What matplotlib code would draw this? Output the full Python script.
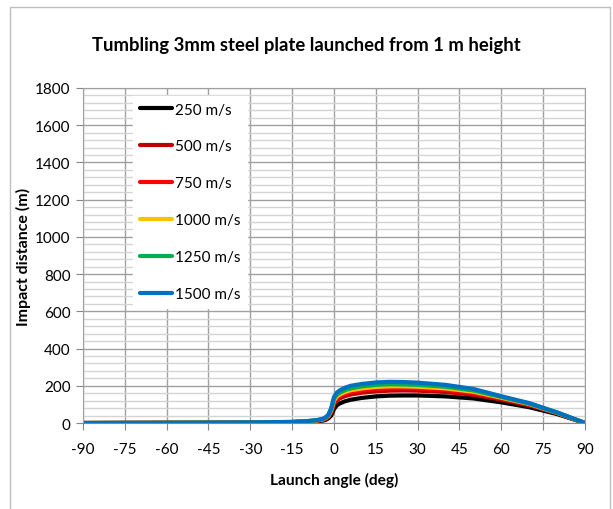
import numpy as np
import matplotlib.pyplot as plt
from matplotlib.ticker import MultipleLocator

plt.rcParams['font.family'] = ['Lato', 'DejaVu Sans']
plt.rcParams['axes.unicode_minus'] = False

# launch angle (deg) and impact distance (m) per launch speed
angles = [-90, -60, -30, -15, -10, -6, -4, -3, -2, -1, 0, 1, 2, 4, 6, 10,
          15, 20, 25, 30, 40, 50, 60, 70, 80, 90]
dist_250 = [0, 1, 2, 4, 6, 9, 13, 17, 25, 40, 75, 95, 105, 117, 125, 135,
            143, 147, 148, 148, 143, 132, 111, 85, 48, 0]
dist_500 = [0, 1, 2, 5, 8, 12, 17, 22, 32, 55, 100, 122, 132, 145, 153, 163,
            170, 174, 175, 174, 167, 152, 126, 95, 52, 0]
dist_750 = [0, 1, 2, 5, 8, 13, 19, 25, 36, 62, 110, 132, 143, 156, 165, 175,
            182, 186, 187, 185, 177, 161, 132, 99, 54, 0]
dist_1000 = [0, 1, 2, 5, 9, 14, 20, 27, 39, 68, 120, 142, 153, 167, 176, 186,
             194, 197, 197, 195, 186, 168, 136, 102, 55, 0]
dist_1250 = [0, 1, 2, 6, 9, 15, 22, 29, 42, 74, 130, 152, 163, 177, 186, 197,
             205, 208, 207, 205, 195, 175, 140, 104, 56, 0]
dist_1500 = [0, 1, 3, 6, 10, 16, 23, 31, 45, 80, 140, 163, 175, 190, 200, 210,
             218, 221, 220, 217, 205, 183, 144, 107, 57, 0]

labels = ["250 m/s", "500 m/s", "750 m/s", "1000 m/s", "1250 m/s", "1500 m/s"]
series = [dist_250, dist_500, dist_750, dist_1000, dist_1250, dist_1500]
colors = ["#000000", "#c00000", "#ff0000", "#ffc000", "#00b050", "#0070c0"]

fig = plt.figure(figsize=(6.13, 5.1), dpi=100)
ax = fig.add_axes([0.1354, 0.1686, 0.8189, 0.6569])

for vals, lab, col in zip(series, labels, colors):
    ax.plot(angles, vals, color=col, lw=3, label=lab, solid_capstyle="round")

ax.set_xlim(-90, 90)
ax.set_ylim(0, 1800)
ax.xaxis.set_major_locator(MultipleLocator(15))
ax.yaxis.set_major_locator(MultipleLocator(200))
ax.yaxis.set_minor_locator(MultipleLocator(40))
ax.grid(which="major", color="#a0a0a0", lw=1)
ax.grid(which="minor", axis="y", color="#d4d4d4", lw=1)
ax.set_axisbelow(True)
for s in ax.spines.values():
    s.set_color("#a0a0a0")
ax.spines["bottom"].set_color("#868686")
ax.tick_params(which="major", direction="out", length=5, color="#868686",
               labelsize=11, pad=4)
ax.tick_params(which="minor", length=0)
ax.tick_params(axis="x", pad=9)

ax.set_xlabel("Launch angle (deg)", fontsize=11.2, fontweight="bold", labelpad=11)
ax.set_ylabel("Impact distance (m)", fontsize=11.5, fontweight="bold", labelpad=3)
fig.text(0.5, 0.911, "Tumbling 3mm steel plate launched from 1 m height",
         ha="center", va="center", fontsize=13.3, fontweight="bold")

leg = ax.legend(loc="upper left", bbox_to_anchor=(0.085, 1.0), frameon=True,
                fontsize=11, labelspacing=1.5, handlelength=2.1,
                handletextpad=0.15, borderpad=0.45, fancybox=False)
leg.get_frame().set_edgecolor("white")
leg.get_frame().set_alpha(1)

fig.patches.append(plt.Rectangle((10 / 613, -0.05), 600 / 613, 1 - 8 / 510 + 0.05,
                                 transform=fig.transFigure, fill=False,
                                 edgecolor="#bfbfbf", lw=1))

fig.savefig("out.png", dpi=100)
